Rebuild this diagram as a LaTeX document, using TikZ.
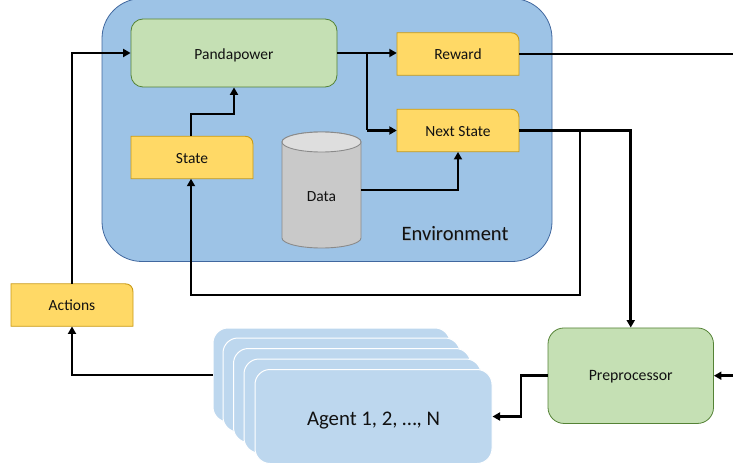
\documentclass[tikz,border=0pt]{standalone}
\usepackage{fontspec}
\setmainfont{Carlito}
\usetikzlibrary{arrows.meta,calc}
\definecolor{envfill}{HTML}{9DC3E6}
\definecolor{envline}{HTML}{41689F}
\definecolor{grfill}{HTML}{C5E0B4}
\definecolor{grline}{HTML}{548235}
\definecolor{yefill}{HTML}{FFD966}
\definecolor{yeline}{HTML}{C99A16}
\definecolor{cylfill}{HTML}{C9C9C9}
\definecolor{cyltop}{HTML}{DEDEDE}
\definecolor{cylline}{HTML}{8A8A8A}
\definecolor{agfill}{HTML}{BDD7EE}
\definecolor{inkc}{HTML}{111111}
\tikzset{
  x=1pt,y=1pt,
  envbox/.style={draw=envline,line width=0.8pt,fill=envfill,rounded corners=40pt,minimum width=450pt,minimum height=263pt,inner sep=0pt},
  greenbox/.style={draw=grline,line width=0.8pt,fill=grfill,inner sep=0pt,text=inkc,text depth=0pt},
  yellowshape/.style={draw=yeline,line width=0.9pt,fill=yefill},
  yellowtext/.style={minimum width=122pt,minimum height=42.5pt,inner sep=0pt,font=\fontsize{15.5}{17}\selectfont,text=inkc,text height=11.4pt,text depth=0pt},
  agentcard/.style={draw=white,line width=1pt,fill=agfill,rounded corners=15pt,minimum width=237pt,minimum height=94pt,inner sep=0pt},
  conn/.style={draw=black,line width=2.6pt,-{Triangle[length=7.5pt,width=8pt]}},
  connplain/.style={draw=black,line width=2.6pt},
}
\newcommand{\ybox}[3]{%
  \path[yellowshape] ([shift={(-61,-21.25)}]#2) -- ([shift={(-61,21.25)}]#2) -- ([shift={(53,21.25)}]#2)
     .. controls ([shift={(58,21.25)}]#2) and ([shift={(61,18)}]#2) .. ([shift={(61,13)}]#2) -- ([shift={(61,-21.25)}]#2) -- cycle;
  \node[yellowtext] (#1) at (#2) {#3};%
}
\begin{document}
\begin{tikzpicture}
\useasboundingbox (0,0) rectangle (733,-465);
% environment
\node[envbox] (env) at (327,-130) {};
\node[font=\fontsize{20.5}{22}\selectfont,text=black!40,inner sep=0pt,opacity=.5] (envshadow) at (455.6,-234.1) {Environment};
\node[font=\fontsize{20.5}{22}\selectfont,text=inkc,inner sep=0pt] (envlabel) at (455,-233.3) {Environment};
% green boxes
\node[greenbox,rounded corners=12pt,minimum width=206pt,minimum height=68pt,font=\fontsize{15.5}{17}\selectfont,text height=12.4pt] (panda) at (234,-53) {Pandapower};
\node[greenbox,rounded corners=16pt,minimum width=165.5pt,minimum height=95.5pt,font=\fontsize{15.8}{17}\selectfont,text height=10pt] (prep) at (630.75,-375.7) {Preprocessor};
% yellow boxes
\ybox{state}{192,-157.5}{State}
\ybox{reward}{458,-54}{Reward}
\ybox{next}{458,-130.5}{Next State}
\ybox{actions}{72,-305}{Actions}
% data cylinder
\path[draw=cylline,line width=0.9pt,fill=cylfill] (282,-142) -- (282,-238)
  arc[start angle=180,end angle=360,x radius=39.5,y radius=10] -- (361,-142)
  arc[start angle=0,end angle=180,x radius=39.5,y radius=10] -- cycle;
\path[draw=cylline,line width=0.9pt,fill=cyltop] (321.5,-142) ellipse[x radius=39.5,y radius=10];
\node[minimum width=79pt,minimum height=116pt,inner sep=0pt,font=\fontsize{15.5}{17}\selectfont,text=inkc] (data) at (321.5,-190) {\smash{\raisebox{-11pt}{Data}}};
% agents
\node[agentcard] (a1) at (331.5,-375) {};
\node[agentcard] (a2) at (341.5,-385) {};
\node[agentcard] (a3) at (352,-395.5) {};
\node[agentcard] (a4) at (362.5,-406) {};
\node[agentcard,font=\fontsize{20.8}{22}\selectfont,text=inkc,text height=17pt,text depth=0pt] (a5) at (373.5,-416.5) {Agent 1, 2, …, N};
% free ends
\coordinate (rightout) at (733,-54);
\coordinate (rightin) at (733,-375.7);
\coordinate (splitA) at (367,-53);
\coordinate (splitB) at (580,-130.5);
\coordinate (turnS) at (191,-114);
\coordinate (turnP) at (521,-375.7);
% connectors
\draw[conn] (panda.east) -- (reward.west |- panda.east);
\draw[connplain] (splitA) -- (367,-130.5);
\draw[conn] (367,-130.5) -- (next.west);
\draw[conn] (191,-136.25) -- (turnS) -| (panda.south);
\draw[conn] (data.east) -| (next.south);
\draw[connplain] (reward.east) -- (rightout);
\draw[conn] (next.east) -| (prep.north);
\draw[conn] (splitB) |- (191,-295) -- (191,-178.75);
\draw[conn] (actions.north) |- (panda.west);
\draw[conn] (a1.west) -| (actions.south);
\draw[conn] (prep.west) -- (turnP) |- (a5.east);
\draw[conn] (rightin) -- (prep.east);
\end{tikzpicture}
\end{document}
